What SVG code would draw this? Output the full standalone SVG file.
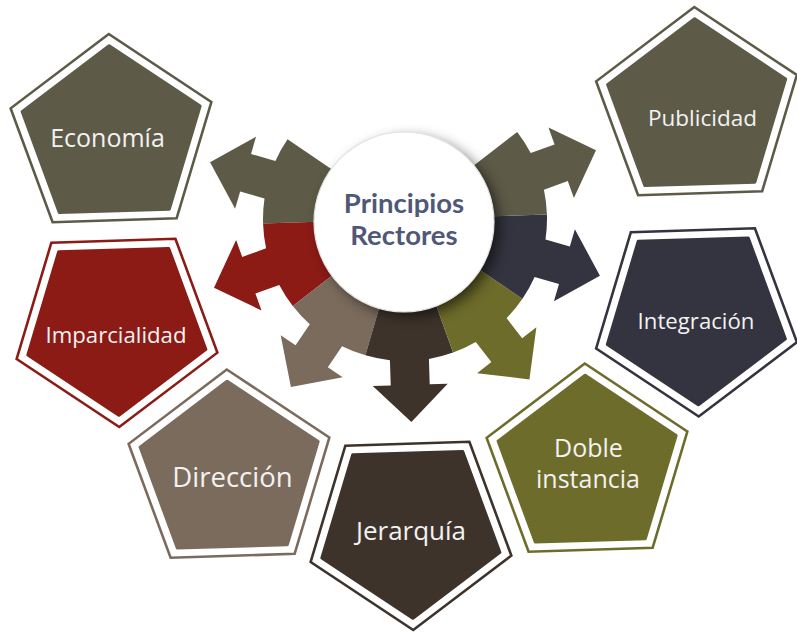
<svg xmlns="http://www.w3.org/2000/svg" width="797" height="633" viewBox="0 0 797 633">
<style>
.lbl{font-family:"Open Sans","Noto Sans","DejaVu Sans",sans-serif;fill:#F2F2F2;text-anchor:middle}
.ctr{font-family:Lato,"Open Sans",sans-serif;font-weight:bold;fill:#505878;text-anchor:middle;font-size:27.5px}
.frame{fill:none;stroke-width:2.5;stroke-linejoin:miter}
.core{stroke-width:3;stroke-linejoin:round}
</style>
<defs>
<path id="seg" d="M47.55,-15.45 L135.05,-43.88 A142,142 0 0 1 140.65,-19.5 L166,-19.5 L166,-37.5 L203,0 L166,37.5 L166,19.5 L140.65,19.5 A142,142 0 0 1 135.05,43.88 L47.55,15.45 A50,50 0 0 0 47.55,-15.45 Z"/>
<polygon id="pf" points="0,-101.5 96.54,-31.36 59.66,82.11 -59.66,82.11 -96.54,-31.36"/>
<polygon id="pc" points="0,-90 85.6,-27.81 52.9,72.81 -52.9,72.81 -85.6,-27.81"/>
<filter id="sh" x="-40%" y="-40%" width="180%" height="180%"><feGaussianBlur stdDeviation="7"/></filter>
</defs>

<g id="connectors">
<use href="#seg" fill="#5D5B47" transform="translate(405,219) rotate(196.2)"/>
<use href="#seg" fill="#8C1B16" transform="translate(405,219) rotate(160.2)"/>
<use href="#seg" fill="#7B6B5D" transform="translate(405,219) rotate(124.2)"/>
<use href="#seg" fill="#3E332A" transform="translate(405,219) rotate(88.2)"/>
<use href="#seg" fill="#6E6C2B" transform="translate(405,219) rotate(52.2)"/>
<use href="#seg" fill="#343440" transform="translate(405,219) rotate(16.2)"/>
<use href="#seg" fill="#5D5B47" transform="translate(405,219) rotate(-19.8)"/>
</g>

<g id="center">
<circle cx="410" cy="227" r="89" fill="#000" opacity="0.6" filter="url(#sh)"/>
<circle cx="404" cy="222" r="90" fill="#FFFFFF" stroke="#E3E3E3" stroke-width="1.2"/>
<text class="ctr" x="404" y="213">Principios</text>
<text class="ctr" x="404" y="245">Rectores</text>
</g>

<g id="economia">
<use href="#pf" class="frame" stroke="#5D5B47" transform="translate(112,137) rotate(-1.8) scale(1.04,1.015)"/>
<use href="#pc" class="core" fill="#5D5B47" stroke="#5D5B47" transform="translate(112,137) rotate(-1.8) scale(1.04,1.015)"/>
<text class="lbl" x="107.5" y="147" font-size="25">Economía</text>
</g>

<g id="imparcialidad">
<use href="#pf" class="frame" stroke="#8C1B16" transform="translate(116,324) rotate(178.2) scale(1.04,1.015)"/>
<use href="#pc" class="core" fill="#8C1B16" stroke="#8C1B16" transform="translate(116,324) rotate(178.2) scale(1.04,1.015)"/>
<text class="lbl" x="116" y="343" font-size="22.2">Imparcialidad</text>
</g>

<g id="direccion">
<use href="#pf" class="frame" stroke="#7B6B5D" transform="translate(230,472.5) rotate(-1.8) scale(1.04,1.015)"/>
<use href="#pc" class="core" fill="#7B6B5D" stroke="#7B6B5D" transform="translate(230,472.5) rotate(-1.8) scale(1.04,1.015)"/>
<text class="lbl" x="232.5" y="487" font-size="27.5">Dirección</text>
</g>

<g id="jerarquia">
<use href="#pf" class="frame" stroke="#3E332A" transform="translate(410,527) rotate(178.2) scale(1.04,1.015)"/>
<use href="#pc" class="core" fill="#3E332A" stroke="#3E332A" transform="translate(410,527) rotate(178.2) scale(1.04,1.015)"/>
<text class="lbl" x="411" y="540" font-size="26">Jerarquía</text>
</g>

<g id="doble-instancia">
<use href="#pf" class="frame" stroke="#6E6C2B" transform="translate(588,466.5) rotate(-1.8) scale(1.04,1.015)"/>
<use href="#pc" class="core" fill="#6E6C2B" stroke="#6E6C2B" transform="translate(588,466.5) rotate(-1.8) scale(1.04,1.015)"/>
<text class="lbl" x="588.5" y="457" font-size="25">Doble</text>
<text class="lbl" x="588" y="488" font-size="25">instancia</text>
</g>

<g id="integracion">
<use href="#pf" class="frame" stroke="#343440" transform="translate(695.5,313.5) rotate(178.2) scale(1.04,1.015)"/>
<use href="#pc" class="core" fill="#343440" stroke="#343440" transform="translate(695.5,313.5) rotate(178.2) scale(1.04,1.015)"/>
<text class="lbl" x="696" y="329" font-size="22.2">Integración</text>
</g>

<g id="publicidad">
<use href="#pf" class="frame" stroke="#5D5B47" transform="translate(697.5,110) rotate(-1.8) scale(1.04,1.015)"/>
<use href="#pc" class="core" fill="#5D5B47" stroke="#5D5B47" transform="translate(697.5,110) rotate(-1.8) scale(1.04,1.015)"/>
<text class="lbl" x="702.5" y="126" font-size="22.5">Publicidad</text>
</g>
</svg>
